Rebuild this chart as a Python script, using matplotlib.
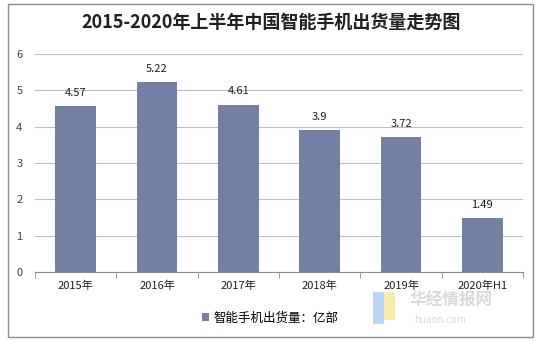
import matplotlib
matplotlib.use("Agg")
import matplotlib.pyplot as plt
from matplotlib.patches import Rectangle, Patch

plt.rcParams['font.family'] = ['Noto Sans CJK SC', 'DejaVu Sans']

categories = ["2015年", "2016年", "2017年", "2018年", "2019年", "2020年H1"]
values = [4.57, 5.22, 4.61, 3.9, 3.72, 1.49]
value_labels = ["4.57", "5.22", "4.61", "3.9", "3.72", "1.49"]
title = "2015-2020年上半年中国智能手机出货量走势图"
series_name = "智能手机出货量：亿部"

bar_color = "#7480A3"
grid_color = "#BFBFBF"

fig = plt.figure(figsize=(5.42, 3.41), dpi=100)
fig.patch.set_facecolor("white")

# outer border
fig.add_artist(Rectangle((8 / 542, 4 / 341), 525 / 542, 333 / 341, transform=fig.transFigure,
                         fill=False, edgecolor="#8C8C8C", linewidth=1.0))

ax = fig.add_axes([35 / 542, 1 - 272 / 341, 488 / 542, 218 / 341])
x = list(range(len(categories)))
ax.bar(x, values, width=0.5, color=bar_color, zorder=3)

ax.set_xlim(-0.5, len(categories) - 0.5)
ax.set_ylim(0, 6)
ax.set_yticks(range(0, 7))
ax.yaxis.grid(True, color=grid_color, linewidth=0.8, zorder=0)
ax.tick_params(axis='y', length=0, labelsize=8, colors="#404040", pad=9)

ax.set_xticks(x)
ax.set_xticklabels(categories, fontsize=8, color="#202020")
ax.tick_params(axis='x', length=0, pad=6)
# boundary tick marks
ax.set_xticks([i - 0.5 for i in range(len(categories) + 1)], minor=True)
ax.tick_params(axis='x', which='minor', length=4, color="#8C8C8C", direction='out')

for s in ["top", "right", "left"]:
    ax.spines[s].set_visible(False)
ax.spines["bottom"].set_color("#8C8C8C")

for xi, v, lab in zip(x, values, value_labels):
    ax.annotate(lab, (xi, v), xytext=(0, 6), textcoords="offset points",
                ha="center", va="bottom", fontsize=8, color="#202020")

fig.text(0.5, 1 - 22 / 341, title, ha="center", va="center", fontsize=13,
         fontweight="bold", color="#202020")

fig.legend(handles=[Patch(facecolor=bar_color, label=series_name)],
           loc="center", bbox_to_anchor=(270 / 542, 1 - 318 / 341), frameon=False,
           fontsize=9, handlelength=0.6, handleheight=0.6, handletextpad=0.3)

# watermark
fig.text(410 / 542, 1 - 301 / 341, "华经情报网", fontsize=12, color="#D0D0D0",
         fontweight="bold", ha="left", va="center", alpha=0.8)
fig.text(414 / 542, 1 - 320 / 341, "huaon.com", fontsize=7, color="#D0D0D0",
         ha="left", va="center", alpha=0.8)
fig.add_artist(Rectangle((373 / 542, 1 - 324 / 341), 11 / 542, 32 / 341, transform=fig.transFigure,
                         facecolor="#A9CBF5", edgecolor="none", alpha=0.8))
fig.add_artist(Rectangle((384 / 542, 1 - 320 / 341), 11 / 542, 28 / 341, transform=fig.transFigure,
                         facecolor="#F6E79A", edgecolor="none", alpha=0.8))

fig.savefig("out.png", dpi=100, facecolor="white")
